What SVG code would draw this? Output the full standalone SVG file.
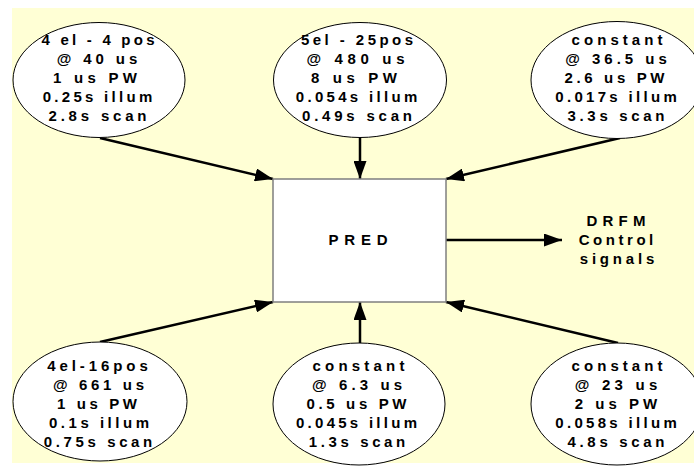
<svg xmlns="http://www.w3.org/2000/svg" width="694" height="472" viewBox="0 0 694 472">
<style>
.bg{fill:#FFFFD5}
.ell{fill:#FFFFFF;stroke:#000;stroke-width:1}
.box{fill:#FFFFFF;stroke:#7F7F7F;stroke-width:1.5}
.t{font-family:"Liberation Sans",Arial,sans-serif;font-weight:bold;font-size:15px;fill:#000;text-anchor:middle}
.con line{stroke:#000;stroke-width:2.5;marker-end:url(#ah)}
</style>
<defs>
<marker id="ah" markerUnits="userSpaceOnUse" markerWidth="20" markerHeight="13" refX="18" refY="6.5" orient="auto">
<path d="M0,0 L18,6.5 L0,13 z" fill="#000"/>
</marker>
</defs>
<rect class="bg" x="12" y="8" width="682" height="455"/>
<g class="con" id="connectors">
<line x1="100" y1="138" x2="273" y2="179"/>
<line x1="360" y1="138" x2="360" y2="179"/>
<line x1="620" y1="138" x2="446" y2="179"/>
<line x1="100" y1="342" x2="273" y2="302"/>
<line x1="360" y1="343" x2="360" y2="302"/>
<line x1="618" y1="343" x2="446" y2="302"/>
<line x1="446" y1="240" x2="562" y2="240"/>
</g>
<g id="pred">
<rect class="box" x="273" y="179" width="173" height="123"/>
<text class="t" x="358" y="245" textLength="59" lengthAdjust="spacing">PRED</text>
</g>
<g id="drfm">
<text class="t" x="616" y="225.5" textLength="59" lengthAdjust="spacing">DRFM</text>
<text class="t" x="616" y="244.5" textLength="74.5" lengthAdjust="spacing">Control</text>
<text class="t" x="617" y="263.5" textLength="74.5" lengthAdjust="spacing">signals</text>
</g>
<g id="n1">
<ellipse class="ell" cx="99" cy="80" rx="86" ry="57.5"/>
<text class="t" x="98" y="44.5" textLength="113" lengthAdjust="spacing">4 el - 4 pos</text>
<text class="t" x="97" y="63.7" textLength="80.5" lengthAdjust="spacing">@ 40 us</text>
<text class="t" x="95" y="82.9" textLength="84" lengthAdjust="spacing">1 us PW</text>
<text class="t" x="97.5" y="102.1" textLength="109.5" lengthAdjust="spacing">0.25s illum</text>
<text class="t" x="97.5" y="121.3" textLength="98" lengthAdjust="spacing">2.8s scan</text>
</g>
<g id="n2">
<ellipse class="ell" cx="360" cy="80" rx="86.5" ry="57.5"/>
<text class="t" x="357" y="44.5" textLength="112" lengthAdjust="spacing">5el - 25pos</text>
<text class="t" x="355.5" y="63.7" textLength="98" lengthAdjust="spacing">@ 480 us</text>
<text class="t" x="354" y="82.9" textLength="86" lengthAdjust="spacing">8 us PW</text>
<text class="t" x="356.5" y="102.1" textLength="121.5" lengthAdjust="spacing">0.054s illum</text>
<text class="t" x="357" y="121.3" textLength="110" lengthAdjust="spacing">0.49s scan</text>
</g>
<g id="n3">
<ellipse class="ell" cx="617" cy="80" rx="86" ry="58.5"/>
<text class="t" x="617" y="44.5" textLength="91" lengthAdjust="spacing">constant</text>
<text class="t" x="616" y="63.7" textLength="101.5" lengthAdjust="spacing">@ 36.5 us</text>
<text class="t" x="614.5" y="82.9" textLength="100" lengthAdjust="spacing">2.6 us PW</text>
<text class="t" x="616" y="102.1" textLength="121.5" lengthAdjust="spacing">0.017s illum</text>
<text class="t" x="616" y="121.3" textLength="97" lengthAdjust="spacing">3.3s scan</text>
</g>
<g id="n4">
<ellipse class="ell" cx="100" cy="401.5" rx="87" ry="59.5"/>
<text class="t" x="97.5" y="370.5" textLength="100.5" lengthAdjust="spacing">4el-16pos</text>
<text class="t" x="98.5" y="389.7" textLength="91" lengthAdjust="spacing">@ 661 us</text>
<text class="t" x="97" y="408.9" textLength="80" lengthAdjust="spacing">1 us PW</text>
<text class="t" x="99" y="428.1" textLength="100" lengthAdjust="spacing">0.1s illum</text>
<text class="t" x="98" y="447.3" textLength="108.5" lengthAdjust="spacing">0.75s scan</text>
</g>
<g id="n5">
<ellipse class="ell" cx="359" cy="404" rx="86" ry="61"/>
<text class="t" x="358.5" y="370.5" textLength="92" lengthAdjust="spacing">constant</text>
<text class="t" x="357" y="389.7" textLength="90" lengthAdjust="spacing">@ 6.3 us</text>
<text class="t" x="356.5" y="408.9" textLength="100" lengthAdjust="spacing">0.5 us PW</text>
<text class="t" x="356.5" y="428.1" textLength="121" lengthAdjust="spacing">0.045s illum</text>
<text class="t" x="357" y="447.3" textLength="96.5" lengthAdjust="spacing">1.3s scan</text>
</g>
<g id="n6">
<ellipse class="ell" cx="617" cy="404" rx="86" ry="61"/>
<text class="t" x="617" y="370.5" textLength="91" lengthAdjust="spacing">constant</text>
<text class="t" x="616" y="389.7" textLength="82.5" lengthAdjust="spacing">@ 23 us</text>
<text class="t" x="616" y="408.9" textLength="82.5" lengthAdjust="spacing">2 us PW</text>
<text class="t" x="616" y="428.1" textLength="121.5" lengthAdjust="spacing">0.058s illum</text>
<text class="t" x="616" y="447.3" textLength="97" lengthAdjust="spacing">4.8s scan</text>
</g>
</svg>
